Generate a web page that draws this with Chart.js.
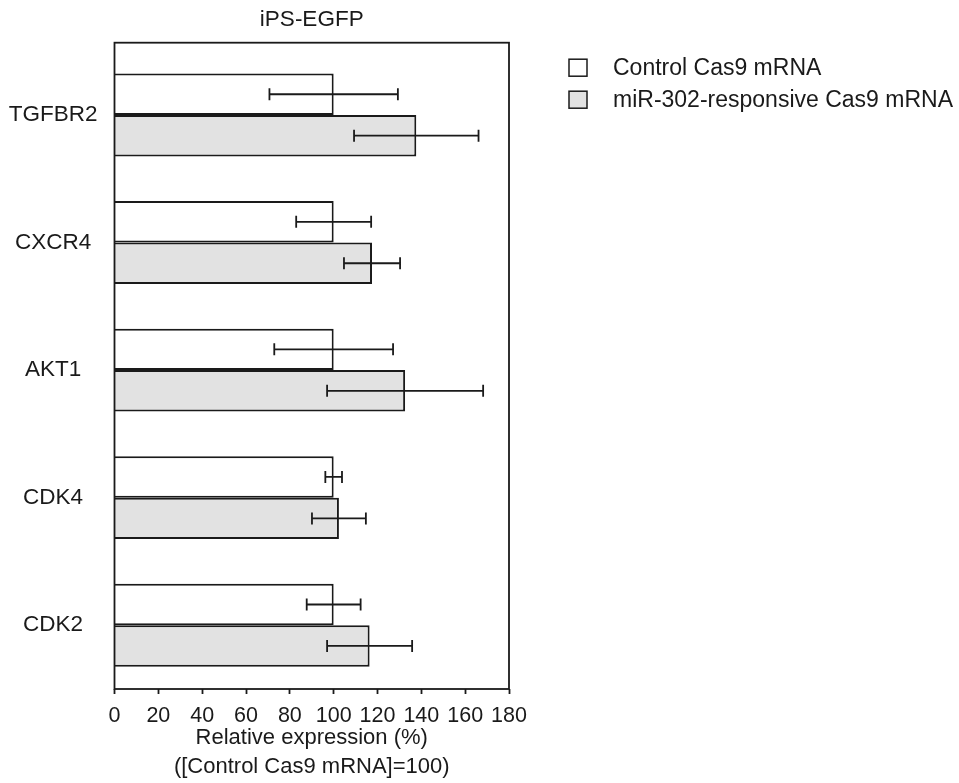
<!DOCTYPE html>
<html>
<head>
<meta charset="utf-8">
<script src="https://cdn.jsdelivr.net/npm/chart.js@4.4.1/dist/chart.umd.min.js"></script>
<style>
  html, body { margin: 0; padding: 0; background: #fff; }
  #wrap { width: 959px; height: 783px; }
</style>
</head>
<body>
<div id="wrap"><canvas id="chart" width="959" height="783"></canvas></div>
<script>
// genes (top to bottom)
const genes = ['TGFBR2', 'CXCR4', 'AKT1', 'CDK4', 'CDK2'];

// relative expression, control = 100
const controlValues = [100, 100, 100, 100, 100];
const controlErr = [29.3, 17.1, 27.1, 3.8, 12.3];

const mirValues = [137.7, 117.5, 132.6, 102.4, 116.4];
const mirErr = [28.4, 12.8, 35.6, 12.3, 19.4];

const xTicks = [0, 20, 40, 60, 80, 100, 120, 140, 160, 180];

const seriesNames = ['Control Cas9 mRNA', 'miR-302-responsive Cas9 mRNA'];
const errors = [controlErr, mirErr];

const FONT = "'Liberation Sans', Arial, Helvetica, sans-serif";
const INK = '#1a1a1a';
const FRAME_EXTRA = 8.5;   // frame starts a bit above the first category

Chart.defaults.font.family = FONT;
Chart.defaults.color = INK;

// error bars: whiskers at mean +/- err, drawn through the x scale
const errorBars = {
    id: 'errorBars',
    afterDatasetsDraw(chart) {
        const ctx = chart.ctx;
        const xs = chart.scales.x;
        ctx.save();
        ctx.strokeStyle = INK;
        ctx.lineWidth = 1.8;
        chart.data.datasets.forEach((ds, di) => {
            const meta = chart.getDatasetMeta(di);
            meta.data.forEach((bar, i) => {
                const v = ds.data[i];
                const e = errors[di][i];
                const x1 = xs.getPixelForValue(v - e);
                const x2 = xs.getPixelForValue(v + e);
                const y = bar.y;
                ctx.beginPath();
                ctx.moveTo(x1, y); ctx.lineTo(x2, y);
                ctx.moveTo(x1, y - 6); ctx.lineTo(x1, y + 6);
                ctx.moveTo(x2, y - 6); ctx.lineTo(x2, y + 6);
                ctx.stroke();
            });
        });
        ctx.restore();
    }
};

// box around the plot + legend at the right
const frameAndLegend = {
    id: 'frameAndLegend',
    afterDraw(chart) {
        const { ctx, chartArea: a } = chart;
        ctx.save();
        ctx.strokeStyle = INK;
        ctx.lineWidth = 1.8;
        ctx.strokeRect(a.left, a.top - FRAME_EXTRA, a.right - a.left, a.bottom - a.top + FRAME_EXTRA);

        const bx = a.right + 60;
        chart.data.datasets.forEach((ds, i) => {
            const by = a.top + 8 + i * 32;
            ctx.fillStyle = ds.backgroundColor;
            ctx.fillRect(bx, by, 18, 17);
            ctx.lineWidth = 1.5;
            ctx.strokeStyle = INK;
            ctx.strokeRect(bx, by, 18, 17);
            ctx.fillStyle = INK;
            ctx.font = '23px ' + FONT;
            ctx.textBaseline = 'middle';
            ctx.textAlign = 'left';
            ctx.fillText(ds.label, bx + 44, by + 9);
        });
        ctx.restore();
    }
};

new Chart(document.getElementById('chart'), {
    type: 'bar',
    data: {
        labels: genes,
        datasets: [
            {
                label: seriesNames[0],
                data: controlValues,
                backgroundColor: '#ffffff',
                borderColor: INK,
                borderWidth: 2
            },
            {
                label: seriesNames[1],
                data: mirValues,
                backgroundColor: '#e2e2e2',
                borderColor: INK,
                borderWidth: 2
            }
        ]
    },
    options: {
        indexAxis: 'y',
        responsive: false,
        animation: false,
        categoryPercentage: 0.65,
        barPercentage: 1.0,
        layout: { padding: { left: 0, right: 450, top: 0, bottom: 0 } },
        plugins: {
            legend: { display: false },
            tooltip: { enabled: false },
            title: { display: false }
        },
        scales: {
            x: {
                type: 'linear',
                position: 'bottom',
                min: 0,
                max: 180,
                afterBuildTicks: s => { s.ticks = xTicks.map(v => ({ value: v })); },
                afterFit: s => { s.height = 94; },
                grid: {
                    drawOnChartArea: false,
                    drawTicks: true,
                    tickLength: 5,
                    tickWidth: 1.8,
                    color: INK
                },
                border: { display: false },
                ticks: {
                    font: { size: 21.5 },
                    color: INK,
                    padding: 9,
                    maxRotation: 0,
                    autoSkip: false
                },
                title: {
                    display: true,
                    text: ['Relative expression (%)', '([Control Cas9 mRNA]=100)'],
                    font: { size: 22, lineHeight: 1.32 },
                    color: INK,
                    padding: { top: 0, bottom: 1.5 }
                }
            },
            x2: {
                type: 'linear',
                position: 'top',
                display: true,
                afterFit: s => { s.height = 51.2; },
                grid: { display: false, drawTicks: false },
                border: { display: false },
                ticks: { display: false },
                title: {
                    display: true,
                    text: 'iPS-EGFP',
                    font: { size: 22.5 },
                    color: INK,
                    padding: { top: 6, bottom: 0 }
                }
            },
            y: {
                type: 'category',
                position: 'left',
                afterFit: s => { s.width = 114.5; },
                grid: { display: false, drawTicks: false },
                border: { display: false },
                ticks: {
                    font: { size: 22.5 },
                    color: INK,
                    padding: 17,
                    crossAlign: 'center'
                }
            }
        }
    },
    plugins: [errorBars, frameAndLegend]
});
</script>
</body>
</html>
